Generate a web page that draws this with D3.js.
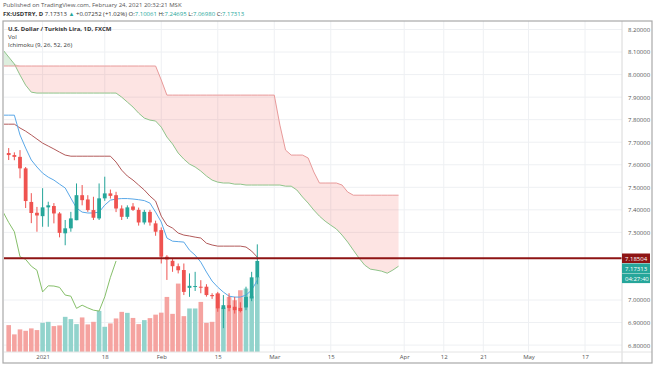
<!DOCTYPE html>
<html>
<head>
<meta charset="utf-8">
<script src="https://cdn.jsdelivr.net/npm/d3@7"></script>
<style>
  body { margin: 0; background: #fff; }
  svg { display: block; font-family: "Open Sans", sans-serif; }
</style>
</head>
<body>
<svg id="chart" width="654" height="366"></svg>
<script>
// Daily bars, FX:USDTRY
const dates = [
  "2020-12-24","2020-12-25","2020-12-28","2020-12-29","2020-12-30","2020-12-31",
  "2021-01-01","2021-01-04","2021-01-05","2021-01-06","2021-01-07","2021-01-08",
  "2021-01-11","2021-01-12","2021-01-13","2021-01-14","2021-01-15","2021-01-18",
  "2021-01-19","2021-01-20","2021-01-21","2021-01-22","2021-01-25","2021-01-26",
  "2021-01-27","2021-01-28","2021-01-29","2021-02-01","2021-02-02","2021-02-03",
  "2021-02-04","2021-02-05","2021-02-08","2021-02-09","2021-02-10","2021-02-11",
  "2021-02-12","2021-02-15","2021-02-16","2021-02-17","2021-02-18","2021-02-19",
  "2021-02-22","2021-02-23","2021-02-24"
];
const opens = [7.652,7.643,7.635,7.584,7.435,7.387,7.372,7.411,7.417,7.384,7.296,7.318,7.354,7.465,7.446,
  7.399,7.362,7.451,7.473,7.465,7.406,7.369,7.415,7.400,7.344,7.391,7.340,7.310,7.192,7.174,
  7.150,7.133,7.054,7.060,7.059,7.059,7.022,7.029,6.960,6.977,6.970,6.965,6.967,7.007,7.10061];
const highs = [7.674,7.655,7.665,7.590,7.474,7.413,7.496,7.436,7.430,7.390,7.355,7.391,7.517,7.510,7.465,
  7.458,7.517,7.547,7.490,7.480,7.420,7.420,7.430,7.410,7.400,7.400,7.352,7.322,7.199,7.185,
  7.162,7.162,7.118,7.125,7.088,7.070,7.030,7.036,7.022,7.030,7.014,6.990,7.059,7.125,7.24695];
const lows = [7.621,7.620,7.540,7.408,7.341,7.303,7.325,7.325,7.340,7.278,7.243,7.303,7.354,7.420,7.391,
  7.355,7.355,7.440,7.450,7.390,7.355,7.360,7.395,7.330,7.335,7.330,7.285,7.162,7.089,7.125,
  7.118,7.022,7.014,7.040,7.030,7.015,7.005,6.948,6.875,6.950,6.940,6.945,6.955,6.995,7.06980];
const closes = [7.643,7.635,7.584,7.439,7.386,7.375,7.411,7.420,7.384,7.298,7.318,7.362,7.465,7.443,7.399,
  7.365,7.451,7.473,7.462,7.406,7.369,7.411,7.400,7.344,7.391,7.344,7.303,7.192,7.180,7.150,
  7.132,7.036,7.063,7.062,7.056,7.022,7.017,6.963,6.977,6.965,6.955,6.951,7.014,7.10061,7.17313];
const volumes = [27000,17700,22700,21300,23700,22000,29300,30300,26000,26700,35300,33000,28000,34700,27700,
  30300,41300,25300,28700,33700,40300,39300,34200,28000,32000,34000,37500,39500,55300,38300,
  68700,36000,43700,43700,50300,29300,30300,58700,44700,55300,52000,62000,63700,56000,75300];

// Ichimoku (9, 26, 52, 26): values start one bar before the first bar
const ichiStart = -1;
const conversionLine = [7.820,7.820,7.820,7.732,7.674,7.621,7.590,7.563,7.545,7.532,7.514,7.497,7.452,7.408,
  7.390,7.386,7.386,7.390,7.421,7.443,7.448,7.450,7.450,7.448,7.445,7.441,7.430,7.390,7.346,7.275,
  7.261,7.259,7.257,7.221,7.199,7.168,7.124,7.084,7.057,7.035,7.017,7.013,7.013,7.022,7.044,7.088];
const baseLine = [7.780,7.780,7.780,7.763,7.749,7.732,7.714,7.696,7.683,7.670,7.656,7.643,7.638,
  7.638,7.638,7.638,7.638,7.638,7.638,7.638,7.612,7.576,7.550,7.532,7.510,7.488,7.461,7.439,
  7.372,7.332,7.319,7.297,7.288,7.284,7.279,7.275,7.252,7.244,7.239,7.239,7.239,7.239,7.239,
  7.235,7.217,7.190];
const leadingSpanA = [8.109,8.078,8.047,7.998,7.953,7.922,
  7.918,7.918,7.918,7.918,7.918,7.918,7.918,7.918,7.918,7.918,7.918,7.918,7.918,7.918,7.918,
  7.900,7.878,7.856,7.829,7.807,7.798,7.794,7.767,7.723,7.692,7.652,7.625,7.603,7.590,7.572,
  7.550,7.532,7.523,7.519,7.519,7.514,7.514,7.510,7.510,7.510,7.510,7.510,7.510,7.510,7.505,
  7.505,7.488,7.457,7.430,7.399,7.372,7.350,7.332,7.315,7.288,7.257,7.221,7.186,7.155,7.137,
  7.133,7.128,7.119,7.133,7.150];
const leadingSpanB = [8.038,8.038,8.038,8.038,8.038,8.038,8.038,8.038,8.038,8.038,8.038,8.038,8.038,8.038,
  8.038,8.038,8.038,8.038,8.038,8.038,8.038,8.038,8.038,8.038,8.038,8.038,8.038,8.038,
  7.976,7.909,7.909,7.909,7.909,7.909,7.909,7.909,7.909,7.909,7.909,7.909,7.909,7.909,7.909,
  7.909,7.909,7.909,7.909,7.909,7.909,7.776,7.665,7.643,7.643,7.643,7.630,7.568,7.519,7.519,
  7.519,7.519,7.510,7.479,7.465,7.465,7.465,7.465,7.465,7.465,7.465,7.465,7.465];
const laggingShift = 25;

const hLinePrice = 7.18504;
const priceTicks = [8.2,8.1,8.0,7.9,7.8,7.7,7.6,7.5,7.4,7.3,7.0,6.9,6.8];
const timeTickDates = ["2021-01-01","2021-01-18","2021-02-01","2021-02-15","2021-03-01","2021-03-15",
  "2021-04-01","2021-04-12","2021-04-21","2021-05-03","2021-05-17"];
const timeTickLabels = ["2021","18","Feb","15","Mar","15","Apr","12","21","May","17"];

// trading-day index counted from the first bar (weekdays)
function barIndex(ds) {
  const d = new Date(dates[0] + "T00:00:00Z");
  const t = new Date(ds + "T00:00:00Z");
  let i = 0;
  while (d < t) {
    d.setUTCDate(d.getUTCDate() + 1);
    const w = d.getUTCDay();
    if (w !== 0 && w !== 6) i++;
  }
  return i;
}

// Chart dimensions
const paneLeft = 4, paneRight = 622, paneTop = 21, paneBottom = 352;
const upColor = "#26a69a", downColor = "#ef5350";

const x = d3.scaleLinear().domain([0, dates.length - 1]).range([8.7, 257.3]);
const y = d3.scaleLinear().domain([6.8, 8.2]).range([345.1, 29.5]);
const volY = d3.scaleLinear().domain([0, d3.max(volumes)]).range([paneBottom, paneBottom - 75]);

const svg = d3.select("#chart");

svg.append("defs").append("clipPath").attr("id", "pane")
  .append("rect")
  .attr("x", paneLeft).attr("y", paneTop)
  .attr("width", paneRight - paneLeft).attr("height", paneBottom - paneTop);

// header
svg.append("text").attr("x", 3).attr("y", 7).attr("font-size", 6).attr("fill", "#555")
  .text("Published on TradingView.com, February 24, 2021 20:32:21 MSK");
const hdr = svg.append("text").attr("x", 3).attr("y", 16).attr("font-size", 6).attr("fill", "#333");
hdr.append("tspan").attr("font-weight", "bold").text("FX:USDTRY, D ");
hdr.append("tspan").text("7.17313 ");
hdr.append("tspan").attr("fill", upColor).text("▲ ");
hdr.append("tspan").text("+0.07252 (+1.02%) O:");
hdr.append("tspan").attr("fill", upColor).text("7.10061");
hdr.append("tspan").text(" H:");
hdr.append("tspan").attr("fill", upColor).text("7.24695");
hdr.append("tspan").text(" L:");
hdr.append("tspan").attr("fill", upColor).text("7.06980");
hdr.append("tspan").text(" C:");
hdr.append("tspan").attr("fill", upColor).text("7.17313");

// grid
const timeIdx = timeTickDates.map(barIndex);
svg.append("g").selectAll("line").data(priceTicks).enter().append("line")
  .attr("x1", paneLeft).attr("x2", paneRight)
  .attr("y1", (d) => y(d)).attr("y2", (d) => y(d))
  .attr("stroke", "#eef0f3").attr("stroke-width", 1);
svg.append("g").selectAll("line").data(timeIdx).enter().append("line")
  .attr("x1", (d) => x(d)).attr("x2", (d) => x(d))
  .attr("y1", paneTop).attr("y2", paneBottom)
  .attr("stroke", "#eef0f3").attr("stroke-width", 1);

const plot = svg.append("g").attr("clip-path", "url(#pane)");

// cloud
const cloud = leadingSpanA.map((a, k) => ({ i: k + ichiStart, a: a, b: leadingSpanB[k] }));
plot.append("path").datum(cloud)
  .attr("fill", "rgba(67,160,71,0.18)")
  .attr("d", d3.area().x((d) => x(d.i)).y0((d) => y(d.b)).y1((d) => y(Math.max(d.a, d.b))));
plot.append("path").datum(cloud)
  .attr("fill", "rgba(244,67,54,0.14)")
  .attr("d", d3.area().x((d) => x(d.i)).y0((d) => y(d.a)).y1((d) => y(Math.max(d.a, d.b))));

// volume
plot.append("g").selectAll("rect").data(volumes).enter().append("rect")
  .attr("x", (d, i) => x(i) - 2.3)
  .attr("width", 4.6)
  .attr("y", (d) => volY(d))
  .attr("height", (d) => paneBottom - volY(d))
  .attr("fill", (d, i) => (opens[i] > closes[i] ? "#f5a3a0" : "#92d3cc"));

// ichimoku lines
const line = d3.line().x((d) => x(d.i)).y((d) => y(d.v));
function series(arr, start) { return arr.map((v, k) => ({ i: k + start, v: v })); }
plot.append("path").datum(series(leadingSpanA, ichiStart))
  .attr("fill", "none").attr("stroke", "#8fc48a").attr("stroke-width", 1).attr("d", line);
plot.append("path").datum(series(leadingSpanB, ichiStart))
  .attr("fill", "none").attr("stroke", "#e89a9a").attr("stroke-width", 1).attr("d", line);
plot.append("path").datum(series(closes, -laggingShift))
  .attr("fill", "none").attr("stroke", "#86bf6a").attr("stroke-width", 1).attr("d", line);
plot.append("path").datum(series(baseLine, ichiStart))
  .attr("fill", "none").attr("stroke", "#b25a5a").attr("stroke-width", 1).attr("d", line);
plot.append("path").datum(series(conversionLine, ichiStart))
  .attr("fill", "none").attr("stroke", "#5aa8e8").attr("stroke-width", 1).attr("d", line);

// candles
const candles = plot.append("g").selectAll("g").data(dates).enter().append("g");
candles.append("line")
  .attr("x1", (d, i) => x(i)).attr("x2", (d, i) => x(i))
  .attr("y1", (d, i) => y(highs[i])).attr("y2", (d, i) => y(lows[i]))
  .attr("stroke", (d, i) => (opens[i] > closes[i] ? downColor : upColor))
  .attr("stroke-width", 1);
candles.append("rect")
  .attr("x", (d, i) => x(i) - 1.9).attr("width", 3.8)
  .attr("y", (d, i) => y(Math.max(opens[i], closes[i])))
  .attr("height", (d, i) => Math.max(1, Math.abs(y(opens[i]) - y(closes[i]))))
  .attr("fill", (d, i) => (opens[i] > closes[i] ? downColor : upColor));

// horizontal line drawing
svg.append("line")
  .attr("x1", paneLeft).attr("x2", paneRight)
  .attr("y1", y(hLinePrice)).attr("y2", y(hLinePrice))
  .attr("stroke", "#8e1414").attr("stroke-width", 2);

// legend
const legend = svg.append("g").attr("font-size", 6).attr("fill", "#333");
legend.append("text").attr("x", 8).attr("y", 31).attr("font-weight", "bold")
  .text("U.S. Dollar / Turkish Lira, 1D, FXCM");
legend.append("text").attr("x", 8).attr("y", 39).text("Vol");
legend.append("text").attr("x", 8).attr("y", 47).text("Ichimoku (9, 26, 52, 26)");

// axes
const yAxis = svg.append("g")
  .attr("transform", `translate(${paneRight + 3},0)`)
  .call(d3.axisRight(y).tickValues(priceTicks).tickFormat(d3.format(".5f")).tickSize(0));
yAxis.select(".domain").remove();
yAxis.selectAll("text").attr("font-size", 6).attr("fill", "#555").attr("font-family", "Open Sans");

const xAxis = svg.append("g")
  .attr("transform", `translate(0,${paneBottom})`)
  .call(d3.axisBottom(x).tickValues(timeIdx).tickFormat((d, i) => timeTickLabels[i]).tickSize(0).tickPadding(3));
xAxis.select(".domain").remove();
xAxis.selectAll("text").attr("font-size", 6).attr("fill", "#555").attr("font-family", "Open Sans");

// separators and frame
svg.append("line").attr("x1", paneRight).attr("x2", paneRight).attr("y1", paneTop).attr("y2", 363)
  .attr("stroke", "#d8d8d8");
svg.append("line").attr("x1", paneLeft).attr("x2", 652).attr("y1", paneBottom).attr("y2", paneBottom)
  .attr("stroke", "#e4e4e4");
svg.append("rect").attr("x", 3).attr("y", 21).attr("width", 649).attr("height", 342)
  .attr("fill", "none").attr("stroke", "#a9a9a9").attr("stroke-width", 1.2);

// price labels on axis
const tags = [
  { text: "7.18504", color: "#8e1414", price: hLinePrice, dy: 0 },
  { text: "7.17313", color: upColor, price: hLinePrice, dy: 10 },
  { text: "04:27:40", color: upColor, price: hLinePrice, dy: 20 }
];
const tag = svg.append("g").selectAll("g").data(tags).enter().append("g")
  .attr("transform", (d) => `translate(${paneRight},${y(d.price) + d.dy})`);
tag.append("rect").attr("x", 0).attr("y", -4.8).attr("width", 28).attr("height", 9.6)
  .attr("fill", (d) => d.color);
tag.append("text").attr("x", 3).attr("y", 2.2).attr("font-size", 6).attr("fill", "#fff")
  .text((d) => d.text);
</script>
</body>
</html>
